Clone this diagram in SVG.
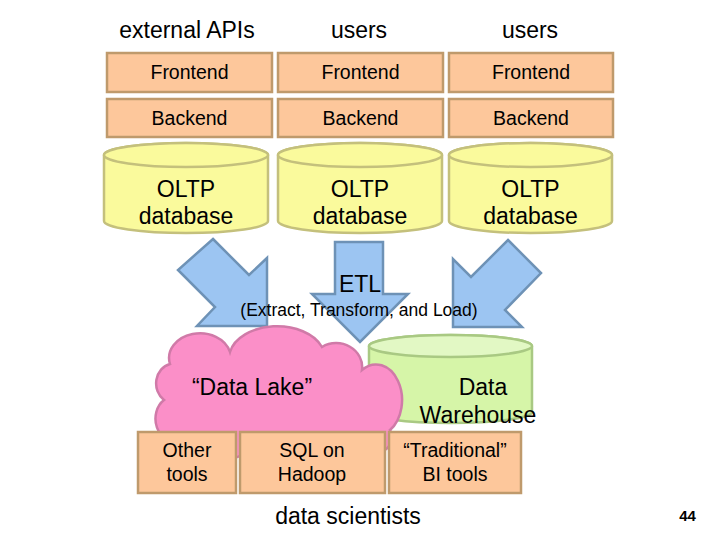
<svg xmlns="http://www.w3.org/2000/svg" width="720" height="540" viewBox="0 0 720 540">
<style>
text{font-family:"Liberation Sans",Arial,sans-serif;fill:#000;text-anchor:middle}
.h{font-size:23px}
.b{font-size:19.5px}
.box{fill:#fdc79b;stroke:#bf9a6c;stroke-width:2.5}
.cyl{fill:#fafa9c;stroke:#c4c07c;stroke-width:2.5}
.gcyl{fill:#d6f5a8;stroke:#a9c983;stroke-width:2.5}
.gtop{fill:#e2f8c4;stroke:#a9c983;stroke-width:2.5}
.arr{fill:#9cc5f2;stroke:#6e92b6;stroke-width:2.5;stroke-linejoin:miter}
</style>
<rect width="720" height="540" fill="#fff"/>
<g id="headers">
<text class="h" x="187" y="38">external APIs</text>
<text class="h" x="359" y="38">users</text>
<text class="h" x="530" y="38">users</text>
</g>
<g id="frontend1"><rect class="box" x="107" y="53" width="165" height="39"/><text class="b" x="189.5" y="79">Frontend</text></g>
<g id="frontend2"><rect class="box" x="278" y="53" width="165" height="39"/><text class="b" x="360.5" y="79">Frontend</text></g>
<g id="frontend3"><rect class="box" x="449" y="53" width="164" height="39"/><text class="b" x="531" y="79">Frontend</text></g>
<g id="backend1"><rect class="box" x="107" y="99" width="165" height="38"/><text class="b" x="189.5" y="125">Backend</text></g>
<g id="backend2"><rect class="box" x="278" y="99" width="165" height="38"/><text class="b" x="360.5" y="125">Backend</text></g>
<g id="backend3"><rect class="box" x="449" y="99" width="164" height="38"/><text class="b" x="531" y="125">Backend</text></g>
<g id="oltp1">
<path class="cyl" d="M104,155 V221 A82,12 0 0 0 268,221 V155 A82,12 0 0 0 104,155 Z"/>
<ellipse class="cyl" cx="186" cy="155" rx="82" ry="12"/>
<text class="h" x="186" y="197">OLTP</text><text class="h" x="186" y="224">database</text>
</g>
<g id="oltp2">
<path class="cyl" d="M278,155 V221 A82,12 0 0 0 442,221 V155 A82,12 0 0 0 278,155 Z"/>
<ellipse class="cyl" cx="360" cy="155" rx="82" ry="12"/>
<text class="h" x="360" y="197">OLTP</text><text class="h" x="360" y="224">database</text>
</g>
<g id="oltp3">
<path class="cyl" d="M449,155 V221 A81.5,12 0 0 0 612,221 V155 A81.5,12 0 0 0 449,155 Z"/>
<ellipse class="cyl" cx="530.5" cy="155" rx="81.5" ry="12"/>
<text class="h" x="530.5" y="197">OLTP</text><text class="h" x="530.5" y="224">database</text>
</g>
<g id="connectors">
<polygon class="arr" points="213,239 249,275 267,258 267,326 197,326 215,307 178,270"/>
<polygon class="arr" points="335,242 383,242 383,294 408,294 360,342 312,294 335,294"/>
<polygon class="arr" points="508,240 541,273 505,310 522,327 453,327 453,259 471,277"/>
</g>
<g id="etl">
<text class="h" x="360" y="292">ETL</text>
<text style="font-size:17.5px" x="359" y="316">(Extract, Transform, and Load)</text>
</g>
<g id="warehouse">
<path class="gcyl" d="M369,346 V412 A81.5,11 0 0 0 532,412 V346 A81.5,11 0 0 0 369,346 Z"/>
<ellipse class="gtop" cx="450.5" cy="346" rx="81.5" ry="11"/>
<text class="h" x="483" y="395">Data</text>
<text class="h" x="478" y="423">Warehouse</text>
</g>
<g id="datalake">
<path fill="#fb8fc8" stroke="#d07aa8" stroke-width="2.5" d="M178,440 A18,22 0 0 1 164,400 A18,20 0 0 1 170,364 A30,24 0 0 1 230,352 A48,32 0 0 1 322,347 A26,24 0 0 1 362,370 A22,30 0 0 1 390,430 A30,18 0 0 1 330,445 A40,18 0 0 1 250,448 A35,16 0 0 1 178,440 Z"/>
<text class="h" x="252" y="395">“Data Lake”</text>
</g>
<g id="other"><rect class="box" x="138" y="432" width="98" height="61"/><text class="b" x="187" y="457">Other</text><text class="b" x="187" y="481">tools</text></g>
<g id="sql"><rect class="box" x="240" y="432" width="145" height="61"/><text class="b" x="312" y="457">SQL on</text><text class="b" x="312" y="481">Hadoop</text></g>
<g id="bi"><rect class="box" x="389" y="432" width="132" height="61"/><text class="b" x="455" y="457">“Traditional”</text><text class="b" x="455" y="481">BI tools</text></g>
<text class="h" x="348" y="524">data scientists</text>
<text style="font-size:15px;font-weight:bold" x="687.5" y="521">44</text>
</svg>
